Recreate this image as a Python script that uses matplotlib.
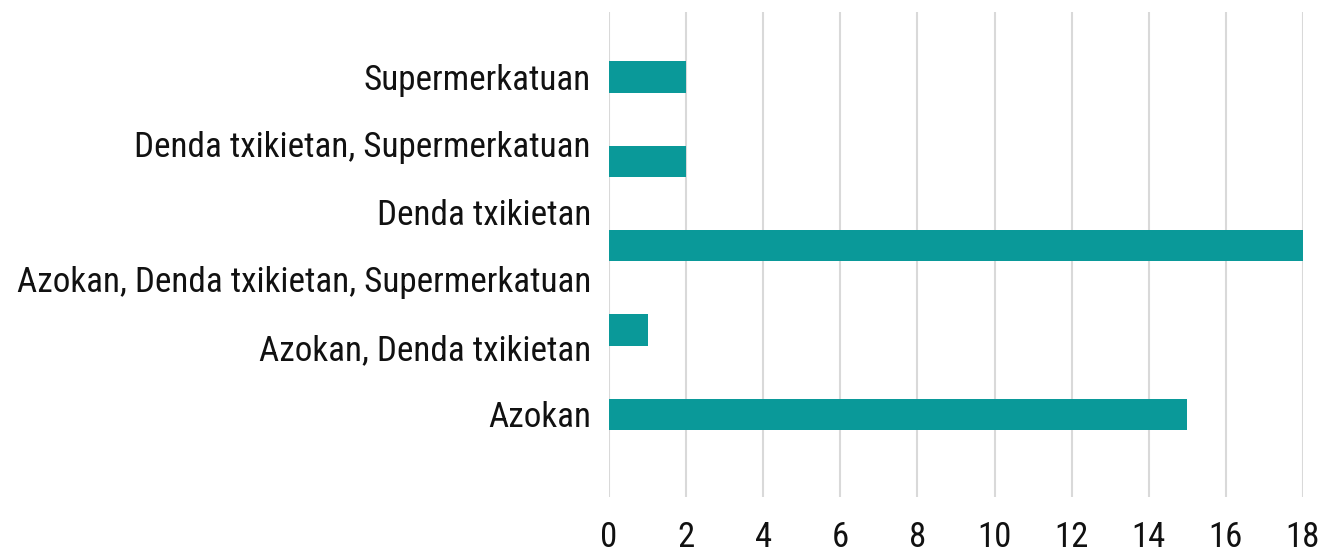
import numpy as np
import matplotlib
matplotlib.use("Agg")
import matplotlib.pyplot as plt

categories = ["Azokan", "Azokan, Denda txikietan",
              "Azokan, Denda txikietan, Supermerkatuan",
              "Denda txikietan", "Denda txikietan, Supermerkatuan",
              "Supermerkatuan"]
bar_values = [15, 1, 18, 2, 2]
x_ticks = [0, 2, 4, 6, 8, 10, 12, 14, 16, 18]

fam = ["Roboto Condensed", "DejaVu Sans"]

fig = plt.figure(figsize=(13.2, 5.55), dpi=100)
ax = fig.add_axes([609/1320, (555-497)/555, (1303-609)/1320, (497-12)/555])

bar_pos = np.arange(len(bar_values))
ax.barh(bar_pos, bar_values, height=0.37, color="#0a9999", zorder=3)

label_pos = np.linspace(0, len(bar_values) - 1, len(categories))
ax.set_yticks(label_pos)
ax.set_yticklabels(categories, fontfamily=fam, fontsize=25.3, color="#111111")
ax.set_xticks(x_ticks)
ax.set_xticklabels([str(v) for v in x_ticks], fontfamily=fam, fontsize=25, color="#111111")
ax.set_xlim(0, 18)
ax.set_ylim(-0.98, 4.77)
ax.grid(axis="x", color="#d9d9d9", linewidth=1.5, zorder=0)
for s in ax.spines.values():
    s.set_visible(False)
ax.tick_params(axis="both", length=0)
ax.tick_params(axis="x", pad=17)
ax.tick_params(axis="y", pad=13)
fig.savefig("out.png", dpi=100)
